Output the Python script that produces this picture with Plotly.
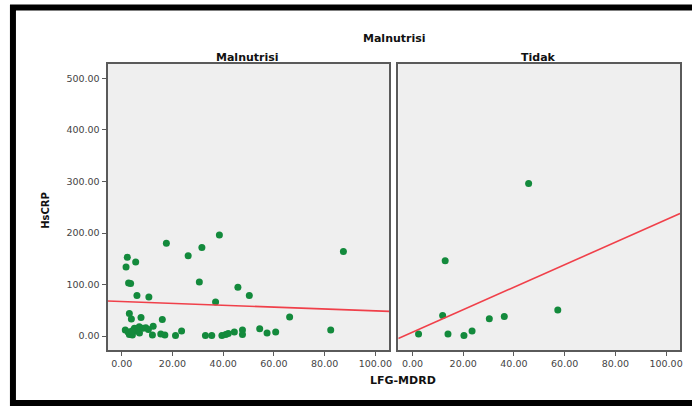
import plotly.graph_objects as go

# LFG-MDRD (x) and HsCRP (y) per group
malnutrisi_lfg = [2.2, 1.7, 5.5, 2.7, 3.5, 6.0, 10.7, 17.6, 26.2, 31.6, 38.5, 30.6, 45.8, 50.3,
                  37.0, 87.4, 66.2, 82.4, 3.0, 3.8, 7.6, 16.0, 1.4, 3.0, 4.2, 5.0, 5.8, 6.9,
                  8.4, 9.5, 10.5, 12.4, 12.1, 15.4, 17.0, 21.2, 23.6, 33.0, 35.5, 39.5, 41.0,
                  42.0, 44.4, 47.6, 47.6, 54.4, 57.3, 60.7, 2.5, 7.0, 4.0]
malnutrisi_crp = [153, 134, 144, 103, 102, 79, 76, 180, 156, 172, 196, 105, 95, 79,
                  66, 164, 37, 12, 44, 33, 36, 32, 12, 3, 2, 15, 10, 18,
                  15, 16, 13, 19, 2, 4, 2, 1, 10, 1, 1, 1, 3,
                  5, 8, 12, 3, 14, 6, 8, 8, 6, 10]

tidak_lfg = [45.8, 12.9, 11.9, 2.4, 14.0, 20.3, 23.5, 30.3, 36.2, 57.3]
tidak_crp = [296, 146, 40, 4, 4, 1.3, 9.7, 33.6, 38, 50.5]

# linear fit lines (intercept, slope)
malnutrisi_fit = (67.0, -0.18)
tidak_fit = (7.7, 2.18)

x_ticks = [0, 20, 40, 60, 80, 100]
y_ticks = [0, 100, 200, 300, 400, 500]
x_range = [-5.6, 105.5]
y_range = [-27, 528]

W, H = 692, 406
GREEN = "#138a3c"
RED = "#f0404a"
FONT = "DejaVu Sans, Verdana, sans-serif"


def px(x):
    return x / W


def py(y):
    return 1 - y / H


fig = go.Figure()

for (xs, ys, fit, ax) in [(malnutrisi_lfg, malnutrisi_crp, malnutrisi_fit, ""),
                          (tidak_lfg, tidak_crp, tidak_fit, "2")]:
    fig.add_trace(go.Scatter(
        x=xs, y=ys, mode="markers",
        marker=dict(color=GREEN, size=7, line=dict(width=0)),
        xaxis="x" + ax, yaxis="y" + ax, showlegend=False, cliponaxis=False))
    b0, b1 = fit
    fig.add_trace(go.Scatter(
        x=x_range, y=[b0 + b1 * x_range[0], b0 + b1 * x_range[1]], mode="lines",
        line=dict(color=RED, width=1.6),
        xaxis="x" + ax, yaxis="y" + ax, showlegend=False))

axis_common = dict(
    showline=True, linecolor="#5a5a5a", linewidth=2, mirror=True,
    ticklen=4, tickcolor="#5a5a5a", tickwidth=1,
    showgrid=False, zeroline=False,
    tickfont=dict(family=FONT, size=9.5, color="#444"),
    tickformat=".2f",
)

fig.update_layout(
    width=W, height=H,
    margin=dict(l=0, r=0, t=0, b=0),
    paper_bgcolor="white", plot_bgcolor="#efefef",
    xaxis=dict(domain=[px(108), px(391)], range=x_range, tickvals=x_ticks, anchor="y",
               ticks="outside", **axis_common),
    yaxis=dict(domain=[py(350), py(64)], range=y_range, tickvals=y_ticks, anchor="x",
               ticks="outside", **axis_common),
    xaxis2=dict(domain=[px(400), px(683)], range=x_range, tickvals=x_ticks, anchor="y2",
                ticks="outside", **axis_common),
    yaxis2=dict(domain=[py(350), py(64)], range=y_range, tickvals=y_ticks, anchor="x2",
                showticklabels=False, ticks="", **axis_common),
)

title_font = dict(family=FONT, size=11, color="#111")


def label(text, x, y, angle=0, size=11):
    fig.add_annotation(text="<b>%s</b>" % text, x=px(x), y=py(y), xref="paper", yref="paper",
                       showarrow=False, textangle=angle,
                       font=dict(title_font, size=size), xanchor="center", yanchor="middle")


label("Malnutrisi", 396, 38)
label("Malnutrisi", 249, 57)
label("Tidak", 541, 57)
label("HsCRP", 45, 210, angle=-90, size=10)
label("LFG-MDRD", 405, 380)

# outer black frame
fig.add_shape(type="rect", xref="paper", yref="paper",
              x0=px(13), x1=px(700), y0=py(403), y1=py(7.5),
              line=dict(color="black", width=6), fillcolor="rgba(0,0,0,0)", layer="above")

fig.write_html("out.html")
